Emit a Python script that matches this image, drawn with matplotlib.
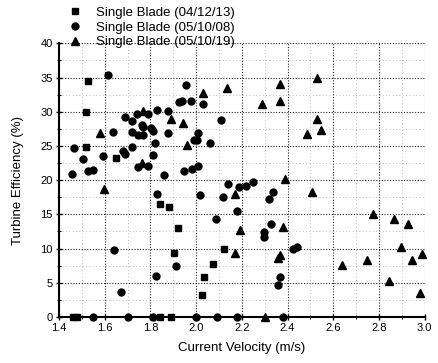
import matplotlib
matplotlib.use("Agg")
import matplotlib.pyplot as plt
from matplotlib.ticker import MultipleLocator, FormatStrFormatter

plt.rcParams["font.family"] = ["Liberation Sans", "DejaVu Sans"]

# Single Blade (04/12/13) - squares
sq_vel = [1.525, 1.517, 1.517, 1.649, 1.842, 1.882, 1.920, 1.903, 2.123, 2.072,
          2.034, 2.026, 1.46, 1.48, 1.84, 1.89]
sq_eff = [34.5, 29.9, 24.8, 23.2, 16.5, 16.1, 13.0, 9.3, 10.0, 7.7,
          5.9, 3.2, 0, 0, 0, 0]

# Single Blade (05/10/08) - circles
ci_vel = [1.616, 1.955, 1.925, 1.936, 1.977, 2.031, 1.689, 1.718, 1.740, 1.790,
          1.827, 1.878, 2.108, 1.637, 1.718, 1.762, 1.769, 1.747, 1.769, 1.802,
          1.810, 1.820, 1.878, 2.006, 1.990, 2.002, 2.060, 1.466, 1.72, 1.594,
          1.681, 1.689, 1.812, 1.506, 1.528, 1.547, 1.747, 1.790, 1.458, 1.860,
          1.948, 1.980, 2.009, 2.140, 2.188, 2.217, 2.247, 2.118, 2.319, 2.337,
          2.180, 2.327, 2.297, 2.297, 2.422, 2.442, 2.369, 2.359, 1.827, 1.911,
          1.824, 1.642, 1.671, 2.019, 2.089,
          1.55, 1.70, 1.81, 2.00, 2.09, 2.18, 2.38]
ci_eff = [35.3, 33.9, 31.4, 31.5, 31.6, 31.1, 29.3, 28.7, 29.7, 29.6,
          30.3, 30.1, 28.8, 27.1, 27.0, 28.0, 27.8, 26.6, 26.6, 27.6,
          27.2, 25.5, 26.9, 26.9, 25.9, 25.9, 25.5, 24.7, 24.8, 23.5,
          24.3, 23.8, 23.7, 23.1, 21.4, 21.5, 21.9, 22.1, 20.9, 20.7,
          21.4, 21.7, 22.0, 19.5, 19.0, 19.1, 19.8, 17.5, 17.3, 18.2,
          15.5, 13.6, 12.4, 11.7, 9.9, 10.3, 5.9, 4.7, 18.0, 7.4,
          6.0, 9.8, 3.6, 17.9, 14.3,
          0, 0, 0, 0, 0, 0, 0]

# Single Blade (05/10/19) - triangles
tr_vel = [2.028, 2.137, 1.769, 1.890, 1.941, 1.579, 1.958, 1.761, 1.598, 2.366,
          2.527, 2.289, 2.369, 2.527, 2.545, 2.487, 2.388, 2.169, 2.508, 2.191,
          2.378, 2.169, 2.366, 2.359, 2.774, 2.864, 2.927, 2.898, 2.986, 2.946,
          2.748, 2.638, 2.844, 2.978, 2.30]
tr_eff = [32.8, 33.5, 30.1, 28.9, 28.3, 26.9, 25.1, 22.5, 18.7, 34.1,
          35.0, 31.1, 31.6, 28.9, 27.3, 26.8, 20.1, 18.0, 18.3, 12.7,
          13.1, 9.4, 9.1, 8.6, 15.0, 14.3, 13.6, 10.2, 9.2, 8.3,
          8.3, 7.6, 5.2, 3.5, 0]

fig = plt.figure(figsize=(4.38, 3.63), dpi=100)
ax = fig.add_axes([0.1347, 0.1267, 0.835, 0.754])

ax.plot(sq_vel, sq_eff, "s", color="black", ms=4.6, clip_on=False,
        label="Single Blade (04/12/13)")
ax.plot(ci_vel, ci_eff, "o", color="black", ms=5.0, clip_on=False,
        label="Single Blade (05/10/08)")
ax.plot(tr_vel, tr_eff, "^", color="black", ms=5.5, clip_on=False,
        label="Single Blade (05/10/19)")

ax.set_xlim(1.4, 3.0)
ax.set_ylim(0, 40)
ax.xaxis.set_major_locator(MultipleLocator(0.2))
ax.xaxis.set_minor_locator(MultipleLocator(0.1))
ax.xaxis.set_major_formatter(FormatStrFormatter("%.1f"))
ax.yaxis.set_major_locator(MultipleLocator(5))
ax.yaxis.set_minor_locator(MultipleLocator(2.5))

ax.grid(which="major", color="0.15", linestyle=(0, (1, 1.5)), linewidth=0.8)
ax.grid(which="minor", color="0.65", linestyle=(0, (1, 3)), linewidth=0.6)
ax.set_axisbelow(True)

for side in ["top", "right"]:
    ax.spines[side].set_visible(False)
for side in ["left", "bottom"]:
    ax.spines[side].set_linewidth(1.5)

ax.tick_params(which="major", direction="inout", length=5, width=1,
               labelsize=8, pad=2)
ax.tick_params(which="minor", direction="inout", length=3, width=0.8)

ax.set_xlabel("Current Velocity (m/s)", fontsize=9.5, labelpad=6)
ax.set_ylabel("Turbine Efficiency (%)", fontsize=9.5, labelpad=12)

ax.legend(loc="upper left", bbox_to_anchor=(68.4 / 438, 1 - 6.5 / 363),
          bbox_transform=fig.transFigure, frameon=False, fontsize=9.5,
          handlelength=1.0, handletextpad=1.1, labelspacing=0.2,
          borderpad=0, borderaxespad=0, numpoints=1)

fig.savefig("out.png", dpi=100)
